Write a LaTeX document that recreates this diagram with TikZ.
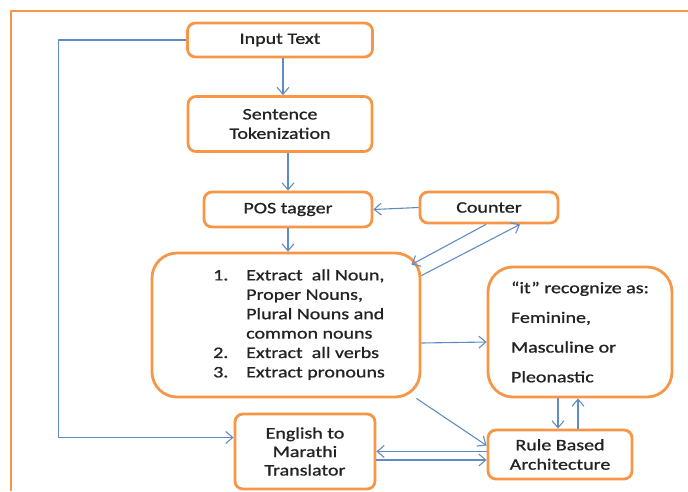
\documentclass[tikz,border=0pt]{standalone}
\usepackage{fontspec}
\setmainfont{Carlito}[FakeStretch=1.25, FakeBold=1]
\usetikzlibrary{arrows.meta}
\definecolor{boxorange}{RGB}{247,150,70}
\definecolor{lineblue}{RGB}{95,140,198}
\definecolor{textgray}{RGB}{35,35,35}
\begin{document}
\begin{tikzpicture}[x=1pt, y=-1pt, font=\fontsize{16}{19.4}\selectfont, text=textgray, line join=round, >={Straight Barb[length=7pt,width=12pt]},
	box/.style={draw=boxorange, line width=2.8pt, rounded corners=8pt, align=center, inner sep=0pt},
	bigbox/.style={box, rounded corners=25pt},
	link/.style={draw=lineblue, line width=1.1pt, ->}]
	\useasboundingbox (0,0) rectangle (688,491);
	\draw[boxorange, line width=2.8pt] (11,491) -- (11,11) -- (688,11);
	% boxes
	\node[box, minimum width=185pt, minimum height=34pt] (input) at (280,40) {Input Text};
	\node[box, minimum width=184pt, minimum height=55pt] (sent) at (280,124) {Sentence\\Tokenization};
	\node[box, minimum width=168pt, minimum height=35pt] (pos) at (288,209.5) {POS tagger};
	\node[box, minimum width=138pt, minimum height=31pt] (counter) at (489,207.5) {Counter};
	\node[bigbox, minimum width=268pt, minimum height=144pt] (extract) at (286,325) {%
		\begin{tabular}{@{\hspace{26pt}}p{33pt}@{}l@{}}
			1. & Extract\ \ all Noun,\\
			   & Proper Nouns,\\
			   & Plural Nouns and\\
			   & common nouns\\
			2. & Extract\ \ all verbs\\
			3. & Extract pronouns
		\end{tabular}};
	\node[bigbox, align=left, minimum width=184pt, minimum height=130pt, font=\fontsize{16}{29.7}\selectfont] (itbox) at (580,332)
		{“it” recognize as:\\Feminine,\\Masculine or\\Pleonastic};
	\node[box, minimum width=140pt, minimum height=75pt, font=\fontsize{16}{18.5}\selectfont] (eng) at (305,451.5) {English to\\Marathi\\Translator};
	\node[box, minimum width=144pt, minimum height=49pt] (rule) at (560,454.5) {Rule Based\\Architecture};
	% connectors
	\draw[link] ([xshift=3pt]input.south) -- ([xshift=3pt]sent.north);
	\draw[link] (sent.south -| pos.north) -- (pos.north);
	\draw[link] (pos.south) -- (pos.south |- extract.north);
	\draw[link] (counter.west) -- (pos.east);
	\draw[link] ([xshift=-3pt]counter.south) -- ([xshift=-10pt,yshift=-13pt]extract.north east);
	\draw[link] ([yshift=-24pt]extract.north east) -- ([xshift=31pt]counter.south);
	\draw[link] ([yshift=-18pt]extract.east) -- ([yshift=-10pt]itbox.west);
	\draw[link] ([xshift=-5pt]extract.south east) -- ([yshift=9pt]rule.west);
	\draw[link] ([xshift=-22pt]itbox.south) -- ([xshift=-2pt]rule.north);
	\draw[link] ([xshift=18pt]rule.north) -- ([xshift=-2pt]itbox.south);
	\draw[link] ([yshift=3pt]rule.west) -- (eng.east);
	\draw[link] ([yshift=-8.5pt]eng.east) -- ([yshift=-5.5pt]rule.west);
	\draw[link] (input.west) -- ++(-128,0) |- ([yshift=14pt]eng.west);
\end{tikzpicture}
\end{document}
